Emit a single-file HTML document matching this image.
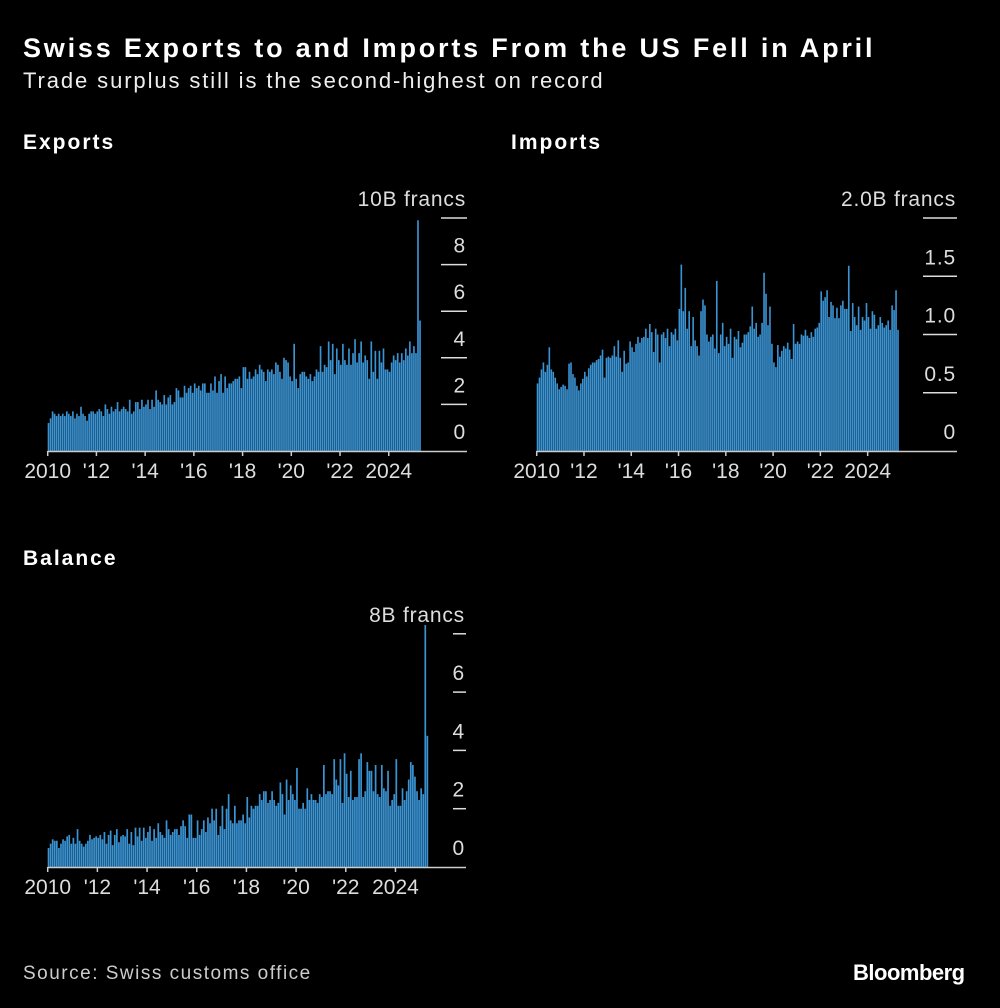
<!DOCTYPE html>
<html><head><meta charset="utf-8">
<style>
html,body{margin:0;padding:0;background:#000;}
body{width:1000px;height:1008px;overflow:hidden;position:relative;font-family:"Liberation Sans","DejaVu Sans",sans-serif;color:#fff;}
.t{position:absolute;white-space:nowrap;}
</style></head><body>
<div class="t" style="left:23px;top:33px;font-size:27px;font-weight:bold;letter-spacing:2.8px;">Swiss Exports to and Imports From the US Fell in April</div>
<div class="t" style="left:23px;top:68px;font-size:22px;color:#eee;letter-spacing:1.9px;">Trade surplus still is the second-highest on record</div>
<div class="t" style="left:23px;top:131px;font-size:21px;font-weight:bold;letter-spacing:2px;">Exports</div>
<div class="t" style="left:511px;top:131px;font-size:21px;font-weight:bold;letter-spacing:2px;">Imports</div>
<div class="t" style="left:23px;top:547px;font-size:21px;font-weight:bold;letter-spacing:2px;">Balance</div>
<div class="t" style="left:23px;top:963px;font-size:19px;color:#ccc;letter-spacing:1.5px;">Source: Swiss customs office</div>
<div class="t" style="left:853px;top:960px;font-size:22px;font-weight:bold;letter-spacing:-0.5px;">Bloomberg</div>
<svg id="svg" width="1000" height="1008" style="position:absolute;left:0;top:0"></svg>
<script>
const yearLabels = ["2010","'12","'14","'16","'18","'20","'22","2024"];
const exportsValues = [
1.2,1.4,1.7,1.6,1.5,1.6,1.5,1.6,1.5,1.7,1.6,1.5,
1.7,1.4,1.6,1.5,1.9,1.6,1.5,1.3,1.6,1.7,1.7,1.6,
1.7,1.8,1.7,1.5,2.0,1.8,1.6,1.9,1.7,1.8,2.1,1.7,
1.8,1.9,1.8,1.7,2.2,1.6,1.7,2.1,2.1,1.8,2.2,1.9,
2.0,2.2,1.8,2.2,1.9,2.6,2.2,2.1,2.0,2.4,2.0,2.3,
2.4,2.0,2.1,2.7,2.6,2.3,2.3,2.8,2.5,2.7,2.8,2.5,
2.9,2.7,2.8,2.6,2.9,2.9,2.5,2.5,2.9,2.6,3.2,2.5,
3.0,3.3,2.5,3.2,2.7,2.9,2.9,3.0,3.1,3.1,3.2,2.7,
3.6,3.6,3.1,3.4,3.1,3.2,3.5,3.3,3.7,3.5,3.4,3.0,
3.5,3.4,3.5,3.3,3.8,3.7,3.4,3.1,4.0,3.9,3.8,3.2,
3.0,4.6,3.1,2.7,3.3,3.4,3.4,3.2,3.1,3.3,3.0,3.2,
3.5,3.4,4.5,3.4,3.7,3.6,4.7,3.9,4.6,3.3,4.4,3.9,
3.7,4.6,3.9,3.7,4.4,3.7,4.2,4.8,3.8,4.2,4.7,3.8,
4.1,3.9,3.1,4.7,3.4,4.3,3.1,4.3,3.8,4.4,3.5,3.5,
3.4,3.8,4.1,3.9,4.2,3.8,4.2,3.9,4.4,4.1,4.7,4.2,
4.5,4.2,9.9,5.6];
const importsValues = [
0.58,0.63,0.70,0.76,0.68,0.74,0.89,0.70,0.68,0.63,0.58,0.53,
0.55,0.57,0.56,0.53,0.75,0.76,0.66,0.63,0.56,0.52,0.58,0.62,
0.68,0.64,0.71,0.74,0.76,0.76,0.78,0.79,0.82,0.87,0.63,0.80,
0.81,0.80,0.82,0.90,0.81,0.95,0.80,0.68,0.86,0.75,0.76,0.94,
0.89,0.85,0.92,0.98,0.93,0.97,0.98,1.05,0.97,1.09,1.02,0.85,
1.05,1.00,0.76,1.00,1.02,0.97,1.05,0.90,1.02,1.00,1.05,0.95,
1.22,1.60,1.20,1.40,1.05,1.20,0.90,1.15,0.95,0.90,0.82,1.20,
1.30,1.25,1.00,0.94,0.98,1.00,0.88,1.46,0.84,1.00,1.10,0.90,
0.98,0.92,1.05,0.80,0.98,0.96,1.03,0.89,0.93,1.00,1.00,1.02,
1.07,1.24,1.05,1.10,0.98,1.00,1.10,1.53,1.35,1.08,1.24,0.92,
0.76,0.72,0.91,0.81,0.86,0.90,0.88,0.93,0.87,0.79,1.09,0.92,
0.94,0.92,1.00,0.99,1.04,0.99,0.97,1.02,0.98,1.05,1.06,1.10,
1.37,1.29,1.32,1.38,1.15,1.28,1.25,1.14,1.23,1.14,1.25,1.29,
1.22,1.22,1.59,1.03,1.27,1.15,1.08,1.24,1.04,1.15,1.12,1.27,
1.15,1.05,1.20,1.17,1.05,1.08,1.15,1.10,1.06,1.08,1.12,1.04,
1.25,1.21,1.38,1.04];
const balanceValues = [
0.65,0.8,0.95,0.9,0.9,0.65,0.8,0.95,0.9,1.05,1.1,0.8,
1.0,0.8,1.3,0.9,0.8,0.7,0.8,0.9,1.1,0.95,1.0,1.05,
1.0,1.1,0.95,1.2,0.8,1.1,1.25,0.75,1.1,1.3,0.85,1.05,
1.1,1.05,1.3,0.8,1.2,0.75,1.35,1.05,1.35,0.9,1.35,1.0,
1.2,1.4,0.9,1.3,1.0,1.5,1.2,1.1,1.0,1.6,1.3,1.1,
1.2,1.3,1.3,1.1,1.4,1.6,1.4,1.0,1.8,1.8,1.0,1.0,
1.6,1.1,1.3,1.6,1.2,1.7,1.5,2.0,1.6,2.0,1.1,1.4,
2.1,1.3,2.0,2.5,1.6,1.5,2.1,1.5,1.6,1.6,1.8,1.5,
2.4,1.7,2.1,2.0,2.1,2.1,2.5,2.3,2.6,2.6,2.2,2.3,
2.6,2.3,2.1,2.2,2.9,2.5,1.8,3.0,2.3,2.8,2.5,2.3,
3.4,2.0,2.0,2.2,2.0,2.7,2.3,2.5,2.3,2.3,2.2,2.5,
2.4,3.5,2.5,2.6,2.6,2.5,3.7,3.0,2.8,3.7,2.2,3.9,
3.2,2.4,3.3,2.3,2.4,2.4,3.7,3.9,2.4,2.6,3.6,3.3,
3.3,2.6,3.5,2.5,2.4,3.5,2.7,2.6,3.3,2.1,2.3,2.5,
3.7,2.1,2.1,2.7,2.3,2.6,3.0,3.6,3.5,3.1,2.6,2.3,
2.7,2.5,8.3,4.5];
const exportsTicks = [0,2,4,6,8,10];
const exportsTickLabels = ["0","2","4","6","8","10B francs"];
const importsTicks = [0,0.5,1,1.5,2];
const importsTickLabels = ["0","0.5","1.0","1.5","2.0B francs"];
const balanceTicks = [0,2,4,6,8];
const balanceTickLabels = ["0","2","4","6","8B francs"];

const NS="http://www.w3.org/2000/svg";
const svg=document.getElementById('svg');
function mk(tag,attrs,parent){const e=document.createElementNS(NS,tag);for(const k in attrs)e.setAttribute(k,attrs[k]);(parent||svg).appendChild(e);return e;}

function drawChart(name,values,ticks,tickLabels,cfg){
  const g=mk('g',{});
  
  
  const xS=i=>cfg.x0+i*cfg.mw;
  const yS=v=>cfg.y0-v*cfg.ppu;
  values.forEach((v,i)=>{
    const r=mk('rect',{x:xS(i).toFixed(2),y:yS(v).toFixed(2),width:(cfg.mw*0.82).toFixed(2),height:(cfg.y0-yS(v)).toFixed(2),fill:'#3a93d3'},g);
    
    
  });
  const ax=mk('line',{x1:cfg.x0,x2:cfg.xEnd,y1:cfg.y0+0.5,y2:cfg.y0+0.5,stroke:'#ccc','stroke-width':1.5},g);
  
  
  ticks.forEach((t,k)=>{
    const y=yS(t);
    if(t!==0){
      const l=mk('line',{x1:cfg.tx1,x2:cfg.xEnd,y1:y,y2:y,stroke:'#ddd','stroke-width':1.5},g);
      
      
    }
    const tx=mk('text',{x:cfg.xEnd-1,y:y-12,'text-anchor':'end','font-size':21,fill:'#ddd','letter-spacing':0.8,'font-family':'Liberation Sans, sans-serif'},g);
    tx.textContent=tickLabels[k];
    
    
  });
  yearLabels.forEach((lab,k)=>{
    const x=xS(k*24);
    mk('line',{x1:x,x2:x,y1:cfg.y0,y2:cfg.y0+5,stroke:'#ccc','stroke-width':1.5},g);
    const tx=mk('text',{x:x,y:cfg.y0+27,'text-anchor':'middle','font-size':21,fill:'#ddd','font-family':'Liberation Sans, sans-serif'},g);
    tx.textContent=lab;
    
    
  });
}
drawChart('exports',exportsValues,exportsTicks,exportsTickLabels,{x0:47.7,mw:2.03,y0:451,ppu:23.3,xEnd:467,tx1:441});
drawChart('imports',importsValues,importsTicks,importsTickLabels,{x0:536.7,mw:1.97,y0:451,ppu:116.5,xEnd:957,tx1:923});
drawChart('balance',balanceValues,balanceTicks,balanceTickLabels,{x0:47.7,mw:2.07,y0:867,ppu:29.15,xEnd:466,tx1:453});
</script>
</body></html>
